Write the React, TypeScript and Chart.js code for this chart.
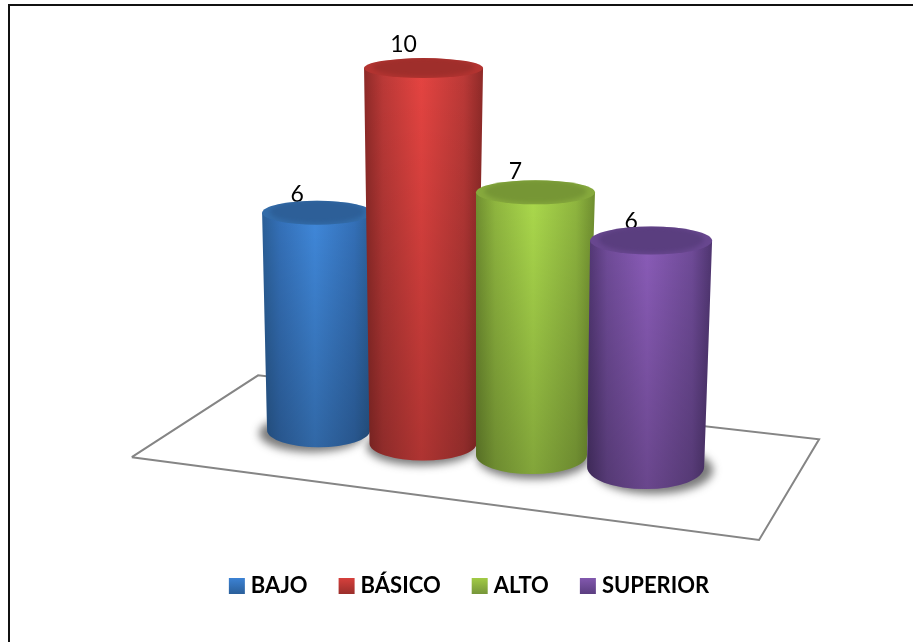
import React, { useEffect, useRef } from "react";
import { Chart, registerables } from "chart.js";

Chart.register(...registerables);

// Chart values
const categories = ["BAJO", "BÁSICO", "ALTO", "SUPERIOR"];
const values = [6, 10, 7, 6];

// Oblique projection of the 3D scene, in axis units
const columnDepth = [1.059, 2.0, 2.977, 4.005];
const floorLift = [2.95, 2.6, 2.29, 1.97];
const foreshortening = [0.966, 1, 1, 1.006];

// Outline of the floor plane, in axis units
const floorX = [-0.624, 0.514, 5.568, 5.027, -0.624];
const floorY = [2.234, 4.415, 2.713, 0.027, 2.234];

// Cylinder shape, in pixels
const cylinderShape = [
  { topShift: -1.5, topRx: 55, baseRx: 51.5, capRy: 12, baseRy: 17, shadowShift: -7, labelDrop: 1 },
  { topShift: 0.5, topRx: 59.5, baseRx: 53.5, capRy: 10, baseRy: 17, shadowShift: -2, labelDrop: -6 },
  { topShift: 4, topRx: 59.5, baseRx: 55.5, capRy: 12, baseRy: 19, shadowShift: 2, labelDrop: -1 },
  { topShift: 5.5, topRx: 61, baseRx: 58.5, capRy: 14, baseRy: 22, shadowShift: 8, labelDrop: 2 },
];

// Surface colours of each cylinder
const palette = [
  { edge: "#2b5f97", mid: "#3470b8", light: "#4088da", capRim: "#336ca9", cap: "#2d5f98", swatchTop: "#3c82d4", swatchBottom: "#2a5f9a" },
  { edge: "#8e2a28", mid: "#bb3937", light: "#e54441", capRim: "#b33431", cap: "#9f2e2b", swatchTop: "#d6403c", swatchBottom: "#9a2e2b" },
  { edge: "#708f30", mid: "#8fb63f", light: "#abd94c", capRim: "#86a93d", cap: "#769635", swatchTop: "#a2cb45", swatchBottom: "#76963a" },
  { edge: "#4f3570", mid: "#6f4b98", light: "#8a5cb8", capRim: "#68478f", cap: "#5a3e7f", swatchTop: "#8258ae", swatchBottom: "#5b3e80" },
];

const LABEL_FONT = "Lato";

const cylinderPlugin = {
  id: "cylinders",
  beforeDatasetDraw(chart: any, args: any) {
    if (args.index !== 0) return true;
    const ctx: CanvasRenderingContext2D = chart.ctx;
    const bars = args.meta.data;

    // Value labels sit behind the cylinder tops
    ctx.save();
    ctx.fillStyle = "#000";
    ctx.font = `23px ${LABEL_FONT}`;
    ctx.textAlign = "center";
    ctx.textBaseline = "alphabetic";
    bars.forEach((bar: any, i: number) => {
      const s = cylinderShape[i];
      const top = Math.min(bar.y, bar.base);
      ctx.fillText(String(values[i]), bar.x + s.topShift - 20, top - s.capRy + s.labelDrop);
    });
    ctx.restore();

    bars.forEach((bar: any, i: number) => {
      const s = cylinderShape[i];
      const c = palette[i];
      const top = Math.min(bar.y, bar.base);
      const base = Math.max(bar.y, bar.base);
      const tx = bar.x + s.topShift;
      const bx = bar.x;

      // Soft contact shadow on the floor
      ctx.save();
      ctx.filter = "blur(4px)";
      ctx.fillStyle = "rgba(40,40,40,0.62)";
      ctx.beginPath();
      ctx.ellipse(bx + s.shadowShift, base + 3, s.baseRx + 1, s.baseRy + 2, 0, 0, Math.PI * 2);
      ctx.fill();
      ctx.restore();

      // Body
      const outline = () => {
        ctx.beginPath();
        ctx.moveTo(tx - s.topRx, top);
        ctx.lineTo(bx - s.baseRx, base);
        ctx.ellipse(bx, base, s.baseRx, s.baseRy, 0, Math.PI, 0, true);
        ctx.lineTo(tx + s.topRx, top);
        ctx.closePath();
      };
      const left = Math.min(tx - s.topRx, bx - s.baseRx);
      const right = Math.max(tx + s.topRx, bx + s.baseRx);
      const across = ctx.createLinearGradient(left, 0, right, 0);
      across.addColorStop(0, c.edge);
      across.addColorStop(0.16, c.mid);
      across.addColorStop(0.48, c.light);
      across.addColorStop(0.84, c.mid);
      across.addColorStop(1, c.edge);
      ctx.fillStyle = across;
      outline();
      ctx.fill();

      const down = ctx.createLinearGradient(0, top, 0, base + s.baseRy);
      down.addColorStop(0, "rgba(0,0,0,0)");
      down.addColorStop(1, "rgba(0,0,0,0.24)");
      ctx.fillStyle = down;
      outline();
      ctx.fill();

      // Cap
      ctx.fillStyle = c.capRim;
      ctx.beginPath();
      ctx.ellipse(tx, top, s.topRx, s.capRy, 0, 0, Math.PI * 2);
      ctx.fill();
      ctx.save();
      ctx.beginPath();
      ctx.ellipse(tx, top, s.topRx, s.capRy, 0, 0, Math.PI * 2);
      ctx.clip();
      ctx.filter = "blur(2px)";
      ctx.fillStyle = c.cap;
      ctx.beginPath();
      ctx.ellipse(tx, top - 1, s.topRx * 0.86, s.capRy * 0.95, 0, 0, Math.PI * 2);
      ctx.fill();
      ctx.restore();
    });
    return false;
  },
  afterDraw(chart: any) {
    // Shaded legend swatches
    const ctx: CanvasRenderingContext2D = chart.ctx;
    const boxes = chart.legend?.legendHitBoxes ?? [];
    boxes.forEach((box: any, i: number) => {
      const y = box.top + (box.height - 16) / 2;
      const g = ctx.createLinearGradient(0, y, 0, y + 16);
      g.addColorStop(0, palette[i].swatchTop);
      g.addColorStop(1, palette[i].swatchBottom);
      ctx.fillStyle = g;
      ctx.fillRect(box.left, y, 16, 16);
    });
  },
};

export default function App() {
  const ref = useRef<HTMLCanvasElement | null>(null);

  useEffect(() => {
    const chart = new Chart(ref.current as HTMLCanvasElement, {
      type: "bar",
      data: {
        labels: categories,
        datasets: [
          {
            type: "bar",
            label: "Nivel",
            order: 1,
            data: values.map((v, i) => ({
              x: columnDepth[i],
              y: [floorLift[i], floorLift[i] + v * foreshortening[i]],
            })),
            backgroundColor: palette.map((p) => p.light),
          },
          {
            type: "scatter",
            label: "Plano",
            order: 2,
            data: floorX.map((x, i) => ({ x, y: floorY[i] })),
            showLine: true,
            borderColor: "#858585",
            borderWidth: 2,
            pointRadius: 0,
            tension: 0,
          },
        ],
      } as any,
      options: {
        responsive: false,
        animation: false,
        layout: { padding: { left: 25, right: 0, top: 0, bottom: 35 } },
        scales: {
          x: { type: "linear", display: false, offset: false, min: -1.586, max: 6.414 },
          y: { type: "linear", display: false, min: -0.079, max: 14.415 },
        },
        plugins: {
          tooltip: { enabled: false },
          legend: {
            position: "bottom",
            labels: {
              boxWidth: 11,
              boxHeight: 16,
              padding: 31,
              color: "#000",
              font: { family: LABEL_FONT, size: 22, weight: "bold" },
              generateLabels: () =>
                categories.map((text, i) => ({
                  text,
                  index: i,
                  fillStyle: "rgba(0,0,0,0)",
                  strokeStyle: "rgba(0,0,0,0)",
                  lineWidth: 0,
                  hidden: false,
                })),
            },
          },
        },
      },
      plugins: [cylinderPlugin],
    } as any);
    return () => chart.destroy();
  }, []);

  return (
    <>
      <canvas
        ref={ref}
        width={913}
        height={642}
        style={{ position: "fixed", left: 0, top: 0, width: 913, height: 642, display: "block" }}
      />
      <div
        style={{
          position: "fixed",
          left: 8,
          top: 4,
          right: 0,
          bottom: 0,
          borderLeft: "2px solid #111",
          borderTop: "2px solid #111",
        }}
      />
    </>
  );
}
